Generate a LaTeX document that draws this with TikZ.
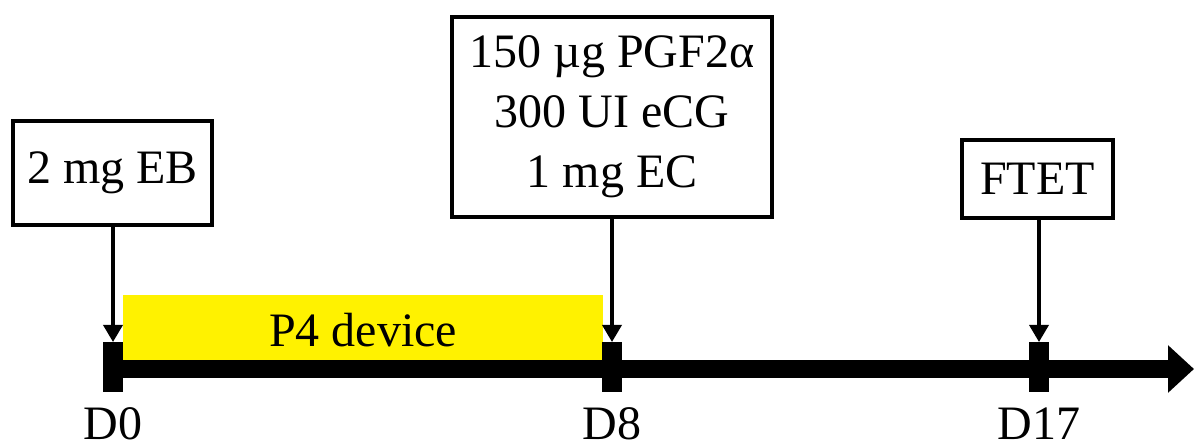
\documentclass[tikz,border=0pt]{standalone}
\usepackage{fontspec}
\setmainfont{Liberation Serif}
\usetikzlibrary{arrows.meta}
\begin{document}
\begin{tikzpicture}[x=1pt,y=-1pt,
  every node/.style={font=\fontsize{48}{60}\selectfont, inner sep=0pt, outer sep=0pt},
  dosebox/.style={draw=black, line width=4.5pt, fill=white, align=center},
  tick/.style={fill=black, minimum width=20pt, minimum height=50pt},
  dayarrow/.style={line width=3.5pt, -{Triangle[length=17pt,width=19pt]}},
  daylabel/.style={anchor=center}]
\useasboundingbox (0,0) rectangle (1194,446);
% yellow device bar
\node[fill=yellow, minimum width=480pt, minimum height=65pt] (p4) at (363,327.5) {};
\node (p4t) at (363,330) {P4 device};
% timeline
\node[tick] (t0) at (113,367) {};
\node[tick] (t8) at (612,367) {};
\node[tick] (t17) at (1039,367) {};
\coordinate (tend) at (1194,369);
\coordinate (tstart) at (103,369);
\draw[line width=18pt, -{Triangle[length=26pt,width=46pt]}] (tstart) -- (tend);
% boxes
\node[dosebox, minimum width=199pt, minimum height=104pt] (eb) at (112.5,173) {2 mg EB};
\node[dosebox, minimum width=320pt, minimum height=200pt] (pgf) at (612,117)
  {150 µg PGF2α\\300 UI eCG\\1 mg EC};
\node[dosebox, minimum width=151pt, minimum height=78pt] (ftet) at (1037.5,179) {FTET};
% arrows
\draw[dayarrow] (eb.south -| t0) -- (t0.north);
\draw[dayarrow] (pgf.south -| t8) -- (t8.north);
\draw[dayarrow] (ftet.south -| t17) -- (t17.north);
% day labels
\node[daylabel] (d0) at (113,424) {D0};
\node[daylabel] (d8) at (612,424) {D8};
\node[daylabel] (d17) at (1039,424) {D17};
\end{tikzpicture}
\end{document}
